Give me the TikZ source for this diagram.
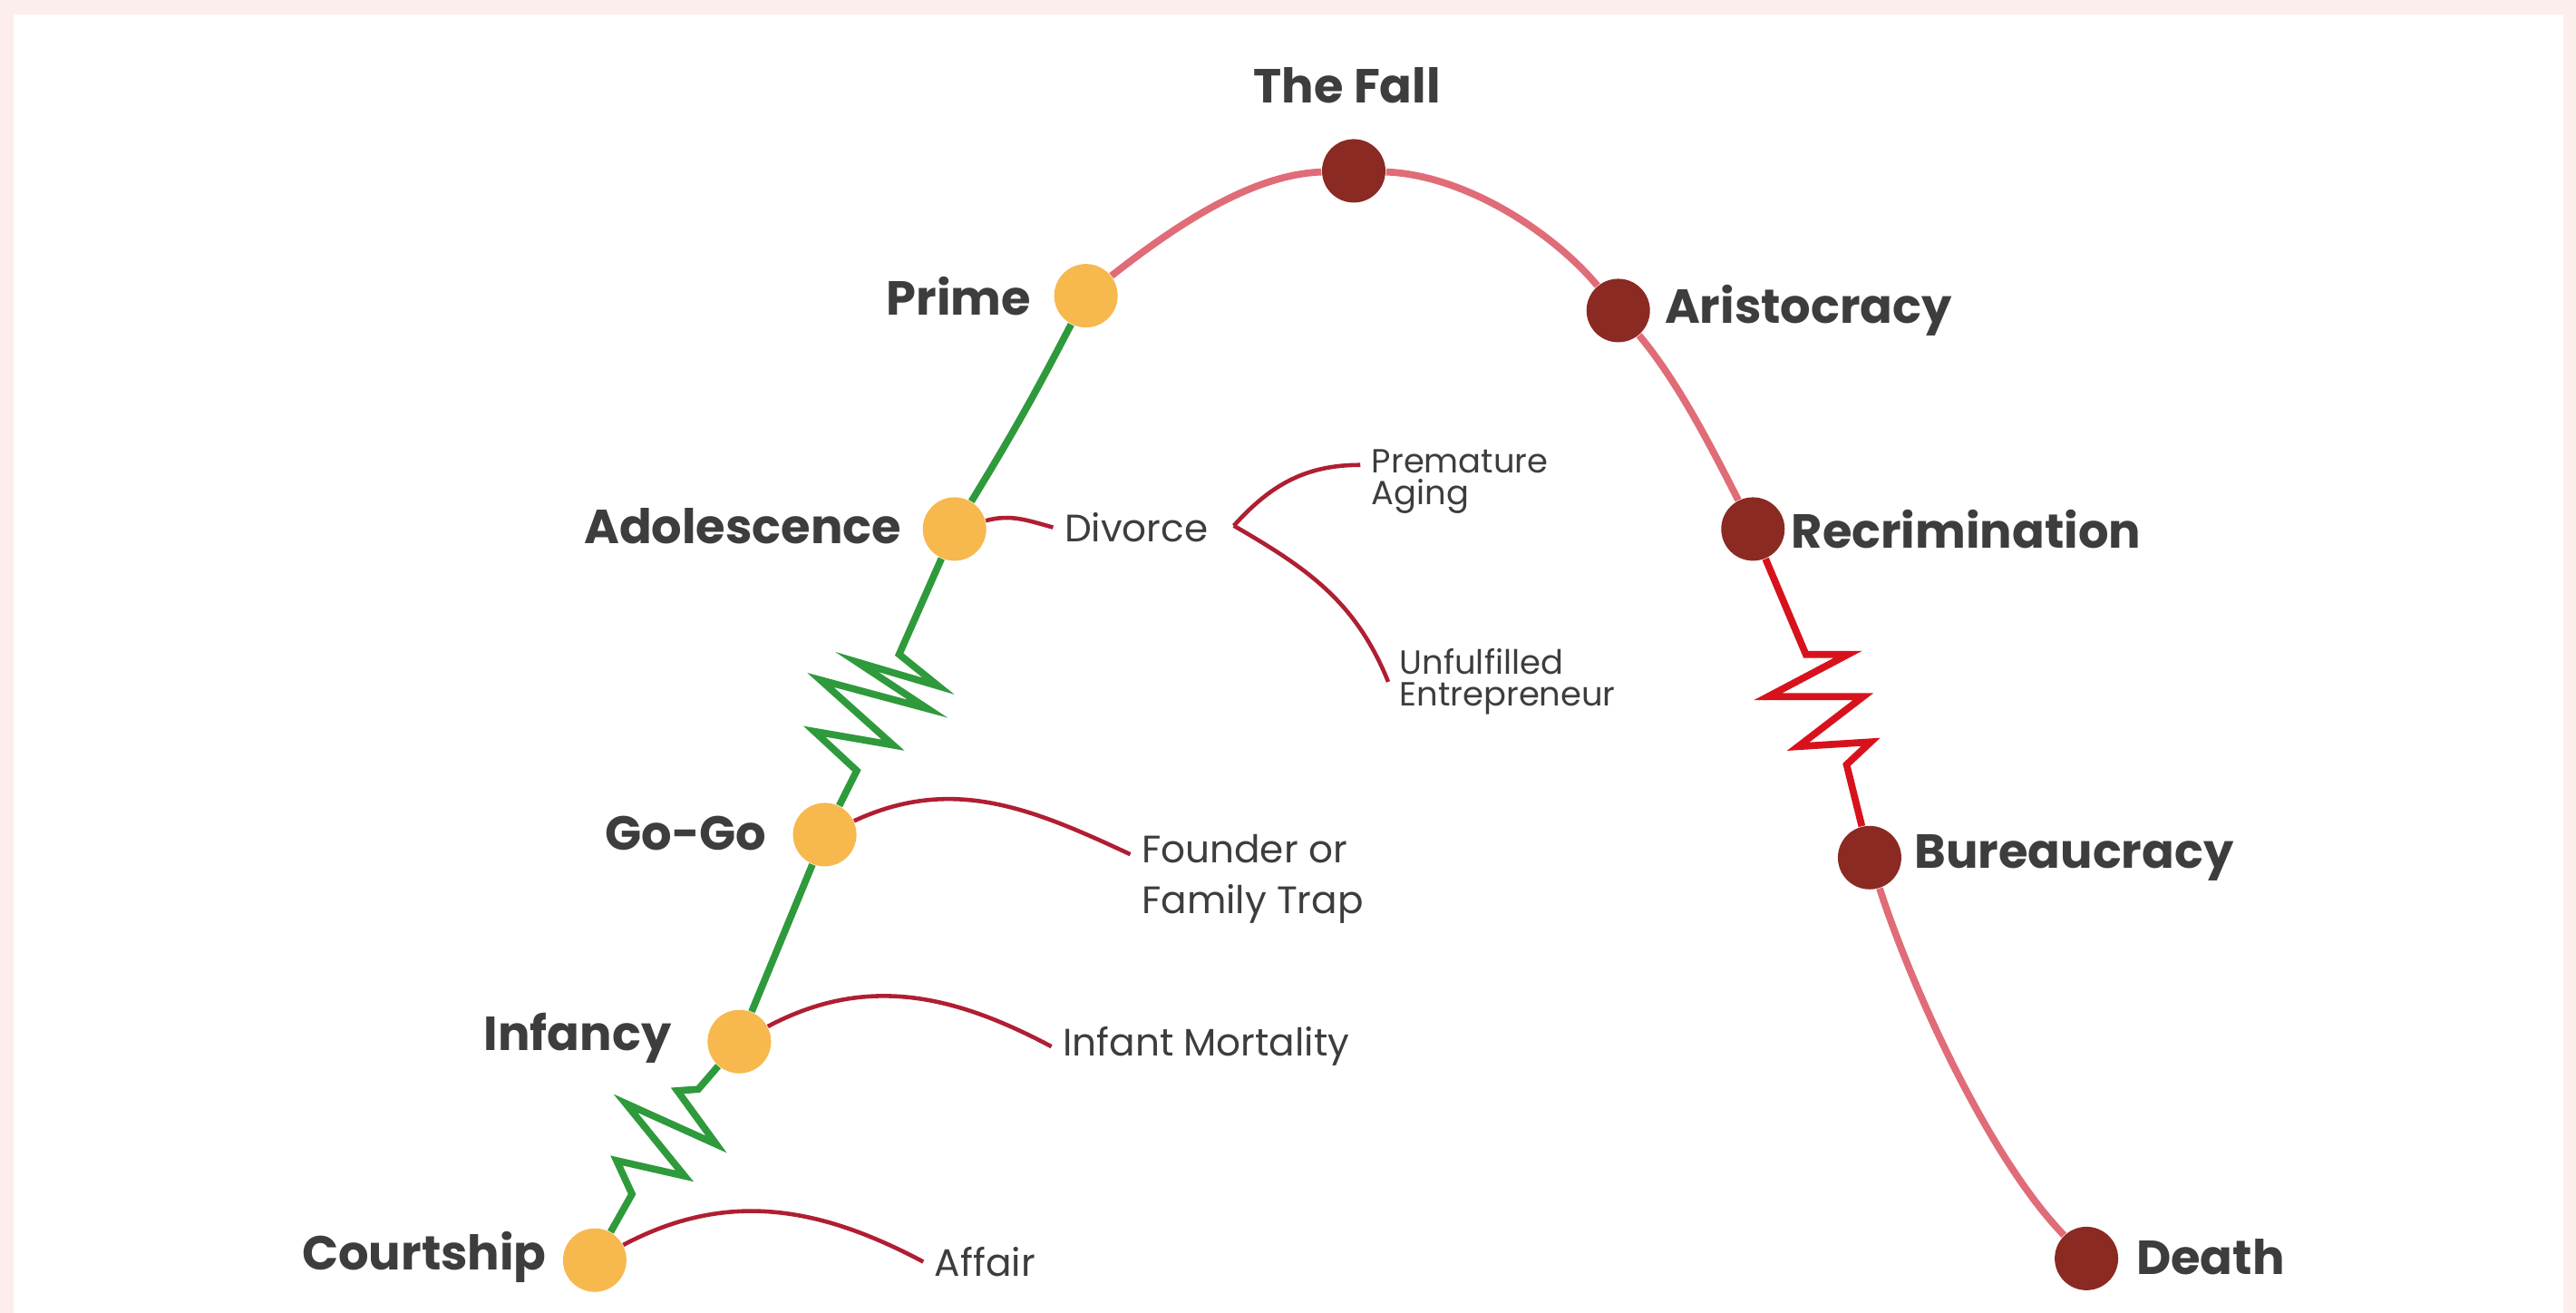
\documentclass[tikz,border=0pt]{standalone}
\usepackage{fontspec}
\setmainfont{Poppins}
\usetikzlibrary{positioning}
\definecolor{bgpink}{HTML}{FDEEEE}
\definecolor{dotyel}{HTML}{F7B84E}
\definecolor{dotred}{HTML}{8A2A22}
\definecolor{growgreen}{HTML}{2E9A3C}
\definecolor{agepink}{HTML}{E06C78}
\definecolor{zigred}{HTML}{D8121C}
\definecolor{branchred}{HTML}{B01E32}
\definecolor{txt}{HTML}{3D3D3D}
\tikzset{
  stage/.style={circle, fill=dotyel, minimum size=0.70cm, inner sep=0pt},
  decline/.style={circle, fill=dotred, minimum size=0.70cm, inner sep=0pt},
  big/.style={font=\bfseries\fontsize{15}{17}\selectfont, text=txt, inner sep=0pt},
  small/.style={font=\fontsize{12}{13}\selectfont, text=txt, inner xsep=0.12cm, inner ysep=0pt, align=left},
  growline/.style={draw=growgreen, line width=2.2pt},
  ageline/.style={draw=agepink, line width=2.2pt},
  zigline/.style={draw=zigred, line width=2.2pt},
  trapline/.style={draw=branchred, line width=1.3pt},
}
\begin{document}
\begin{tikzpicture}[x=0.01812cm, y=-0.01812cm]
\fill[bgpink] (0,0) rectangle (1568,799);
\fill[white] (8.3,8.8) rectangle (1560.3,799);
\useasboundingbox (0,0) rectangle (1568,799);
% growing stages
\node[stage] (court) at (362,767) {};
\node[stage] (inf) at (450,634) {};
\node[stage] (gogo) at (502,508) {};
\node[stage] (adol) at (581,322) {};
\node[stage] (prime) at (661,180) {};
% ageing stages
\node[decline] (fall) at (824,104) {};
\node[decline] (aris) at (985,189) {};
\node[decline] (recr) at (1067,322) {};
\node[decline] (bur) at (1138,522) {};
\node[decline] (death) at (1270,766) {};
% stage names
\node[big, anchor=east] (courtL) at (333,765) {Courtship};
\node[big, anchor=east] (infL) at (409,632) {Infancy};
\node[big, anchor=east] (gogoL) at (467,507) {Go-Go};
\node[big, anchor=east] (adolL) at (549,320) {Adolescence};
\node[big, anchor=east] (primeL) at (628,180) {Prime};
\node[big] (fallL) at (820,52) {The Fall};
\node[big, anchor=west] (arisL) at (1013,189) {Aristocracy};
\node[big, anchor=west] (recrL) at (1090,322) {Recrimination};
\node[big, anchor=west] (burL) at (1165,522) {Bureaucracy};
\node[big, anchor=west] (deathL) at (1300,765) {Death};
% traps
\node[small, anchor=west] (affair) at (562,768) {Affair};
\node[small, anchor=west] (mort) at (640,637) {Infant Mortality};
\node[small, anchor=west, font=\fontsize{12}{16}\selectfont] (founder) at (688,535) {Founder or\\Family Trap};
\node[small, anchor=west] (divorce) at (641,321) {Divorce};
\node[small, anchor=west, font=\fontsize{10.5}{10}\selectfont] (aging) at (828,293) {Premature\\Aging};
\node[small, anchor=west, font=\fontsize{10.5}{10}\selectfont] (unful) at (845,415) {Unfulfilled\\Entrepreneur};
\coordinate (founderE) at (688,520);
\coordinate (agingE) at (828,283);
\coordinate (fork) at (751,320);
% zigzag points
\coordinate (g1) at (384.7,726.8);
\coordinate (g2) at (375.3,706.4);
\coordinate (g3) at (416.7,715.8);
\coordinate (g4) at (380.8,671.6);
\coordinate (g5) at (436.0,696.5);
\coordinate (g6) at (412.3,663.9);
\coordinate (g7) at (425.0,663.0);
\coordinate (h1) at (521.5,469.1);
\coordinate (h2) at (495.7,445.2);
\coordinate (h3) at (543.6,453.5);
\coordinate (h4) at (499.4,413.9);
\coordinate (h5) at (564.7,431.4);
\coordinate (h6) at (521.5,402.9);
\coordinate (h7) at (571.2,417.6);
\coordinate (h8) at (547.3,398.3);
\coordinate (r1) at (1099.2,398.3);
\coordinate (r2) at (1124.9,398.3);
\coordinate (r3) at (1076.2,424.0);
\coordinate (r4) at (1134.1,424.0);
\coordinate (r5) at (1094.5,454.4);
\coordinate (r6) at (1138.7,451.6);
\coordinate (r7) at (1124.0,465.4);
% growth line
\draw[growline] (court) -- (g1) -- (g2) -- (g3) -- (g4) -- (g5) -- (g6) -- (g7) -- (inf);
\draw[growline] (inf) -- (gogo);
\draw[growline] (gogo) -- (h1) -- (h2) -- (h3) -- (h4) -- (h5) -- (h6) -- (h7) -- (h8) -- (adol);
\draw[growline] (adol) to[bend right=2] (prime);
% ageing line
\draw[ageline] (prime) to[out=38,in=182,looseness=0.8] (fall);
\draw[ageline] (fall) to[out=-2,in=130,looseness=0.8] (aris);
\draw[ageline] (aris) to[out=-50,in=117,looseness=0.8] (recr);
\draw[zigline] (recr) -- (r1) -- (r2) -- (r3) -- (r4) -- (r5) -- (r6) -- (r7) -- (bur);
\draw[ageline] (bur) to[out=-72,in=134,looseness=0.7] (death);
% traps
\draw[trapline] (court) to[out=28,in=152] (affair.west);
\draw[trapline] (inf) to[out=28,in=152] (mort.west);
\draw[trapline] (gogo) to[out=25,in=155] (founderE);
\draw[trapline] (adol) to[out=15,in=165] (divorce.west);
\draw[trapline] (fork) to[out=48,in=180] (agingE);
\draw[trapline] (fork) to[out=-30,in=112] (unful.west);
\end{tikzpicture}
\end{document}
